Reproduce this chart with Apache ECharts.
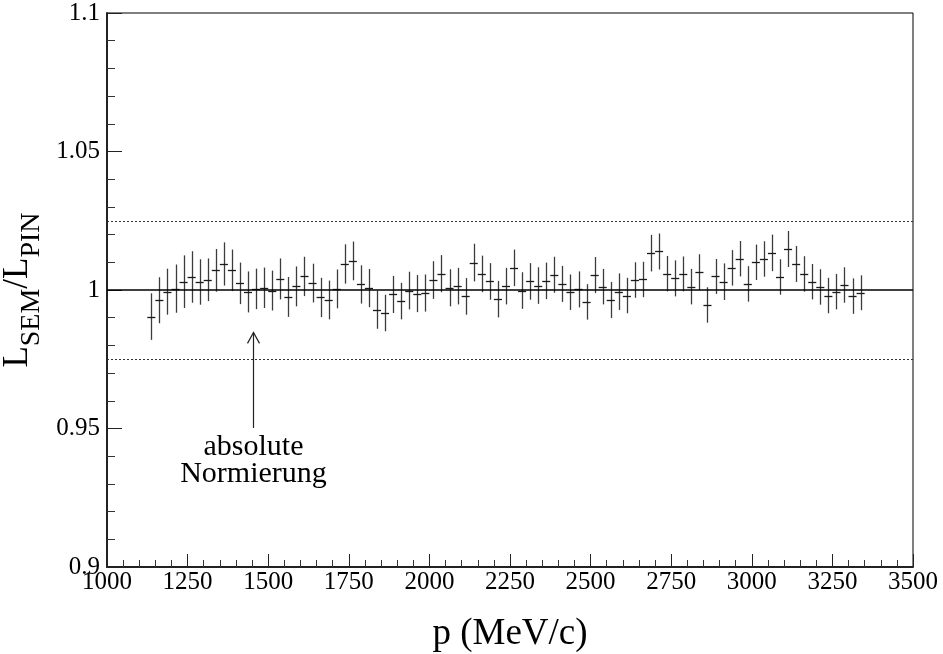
<!DOCTYPE html>
<html>
<head>
<meta charset="utf-8">
<script src="https://cdn.jsdelivr.net/npm/echarts@6/dist/echarts.min.js"></script>
<style>
html,body{margin:0;padding:0;background:#fff;}
#chart{width:943px;height:654px;}
</style>
</head>
<body>
<div id="chart"></div>
<script>
// bin centres p (MeV/c)
var pValues = [1137.5,1162.5,1187.5,1212.5,1237.5,1262.5,1287.5,1312.5,1337.5,1362.5,
1387.5,1412.5,1437.5,1462.5,1487.5,1512.5,1537.5,1562.5,1587.5,1612.5,
1637.5,1662.5,1687.5,1712.5,1737.5,1762.5,1787.5,1812.5,1837.5,1862.5,
1887.5,1912.5,1937.5,1962.5,1987.5,2012.5,2037.5,2062.5,2087.5,2112.5,
2137.5,2162.5,2187.5,2212.5,2237.5,2262.5,2287.5,2312.5,2337.5,2362.5,
2387.5,2412.5,2437.5,2462.5,2487.5,2512.5,2537.5,2562.5,2587.5,2612.5,
2637.5,2662.5,2687.5,2712.5,2737.5,2762.5,2787.5,2812.5,2837.5,2862.5,
2887.5,2912.5,2937.5,2962.5,2987.5,3012.5,3037.5,3062.5,3087.5,3112.5,
3137.5,3162.5,3187.5,3212.5,3237.5,3262.5,3287.5,3312.5,3337.5];
// L_SEM / L_PIN ratio
var ratioValues = [0.9904,0.9963,0.9994,1.0005,1.0030,1.0047,1.0029,1.0037,1.0071,1.0094,
1.0071,1.0024,0.9993,1.0004,1.0008,0.9998,1.0040,0.9975,1.0013,1.0049,
1.0025,0.9973,0.9964,1.0004,1.0094,1.0105,1.0020,1.0007,0.9929,0.9917,
0.9984,0.9960,0.9998,0.9987,0.9989,1.0036,1.0059,1.0008,1.0014,0.9977,
1.0099,1.0058,1.0031,0.9967,1.0014,1.0080,0.9998,1.0031,1.0016,1.0033,
1.0055,1.0022,0.9992,1.0002,0.9957,1.0054,1.0012,0.9964,0.9994,0.9980,
1.0036,1.0038,1.0133,1.0139,1.0059,1.0042,1.0058,1.0012,1.0064,0.9946,
1.0049,1.0030,1.0080,1.0113,1.0022,1.0100,1.0112,1.0134,1.0047,1.0148,
1.0094,1.0058,1.0030,1.0011,0.9980,0.9994,1.0018,0.9978,0.9990];
// half error bars
var errValues = [0.0084,0.0083,0.0083,0.0087,0.0095,0.0093,0.0082,0.0077,0.0077,0.0078,
0.0075,0.0075,0.0074,0.0073,0.0073,0.0072,0.0074,0.0072,0.0072,0.0071,
0.0070,0.0071,0.0070,0.0070,0.0071,0.0070,0.0069,0.0069,0.0069,0.0066,
0.0067,0.0066,0.0068,0.0067,0.0067,0.0068,0.0067,0.0067,0.0066,0.0066,
0.0068,0.0066,0.0066,0.0066,0.0066,0.0066,0.0066,0.0066,0.0066,0.0066,
0.0065,0.0065,0.0064,0.0065,0.0064,0.0065,0.0064,0.0065,0.0066,0.0064,
0.0064,0.0064,0.0066,0.0065,0.0064,0.0065,0.0063,0.0064,0.0065,0.0064,
0.0063,0.0066,0.0064,0.0064,0.0064,0.0064,0.0064,0.0066,0.0064,0.0065,
0.0065,0.0064,0.0064,0.0064,0.0064,0.0064,0.0064,0.0064,0.0063];
var binWidth = 25;
var refLine = 1.0;
var bandLines = [1.025, 0.975];
// annotation arrow: [p, yFrom, yTo]
var arrowData = [[1454, 0.9502, 0.9847]];
var annotationText = 'absolute\nNormierung';

var serif = "'Liberation Serif','DejaVu Serif','Times New Roman',serif";
var data = pValues.map(function(p, i){ return [p, ratioValues[i], errValues[i]]; });

var chart = echarts.init(document.getElementById('chart'), null, {renderer:'canvas'});
chart.setOption({
  animation:false,
  backgroundColor:'#fff',
  grid:{left:107, right:30, top:13, bottom:87, outerBoundsMode:'none', containLabel:false,
        show:true, borderColor:'#000', borderWidth:1, backgroundColor:'transparent'},
  xAxis:{
    type:'value', min:1000, max:3500, interval:250,
    name:'p (MeV/c)', nameLocation:'middle', nameGap:47,
    nameTextStyle:{fontFamily:serif, fontSize:37, color:'#000', lineHeight:40},
    axisLine:{show:true, onZero:false, lineStyle:{color:'#222', width:2}},
    axisTick:{show:true, inside:true, length:13, lineStyle:{color:'#222', width:1}},
    minorTick:{show:true, splitNumber:5, length:7, lineStyle:{color:'#333', width:1}},
    splitLine:{show:false},
    axisLabel:{fontFamily:serif, fontSize:25, color:'#000', margin:3,
      formatter:function(v){ return String(v); }}
  },
  yAxis:{
    type:'value', min:0.9, max:1.1, interval:0.05,
    name:'{m|L}{s|SEM}{m|/L}{s|PIN}', nameLocation:'middle', nameGap:54,
    nameTextStyle:{fontFamily:serif, color:'#000',
      rich:{
        m:{fontFamily:serif, fontSize:35, lineHeight:36, verticalAlign:'top', color:'#000'},
        s:{fontFamily:serif, fontSize:28, lineHeight:26, verticalAlign:'top', padding:[17,0,0,0], color:'#000'}
      }},
    axisLine:{show:true, onZero:false, lineStyle:{color:'#222', width:2}},
    axisTick:{show:true, inside:true, length:15, lineStyle:{color:'#222', width:1}},
    minorTick:{show:true, splitNumber:5, length:8, lineStyle:{color:'#333', width:1}},
    splitLine:{show:false},
    axisLabel:{fontFamily:serif, fontSize:25, color:'#000', margin:7,
      formatter:function(v){ return String(Math.round(v*1000)/1000); }}
  },
  series:[
    {
      type:'line', data:[], silent:true,
      markLine:{
        silent:true, symbol:['none','none'], animation:false, precision:4,
        label:{show:false},
        data:[
          {yAxis:refLine, lineStyle:{type:'solid', color:'#000', width:1.5}},
          {yAxis:bandLines[0], lineStyle:{type:[2,2], color:'#333', width:1}},
          {yAxis:bandLines[1], lineStyle:{type:[2,2], color:'#333', width:1}}
        ]
      }
    },
    {
      type:'custom', data:data, silent:true,
      renderItem:function(params, api){
        var x = api.value(0), y = api.value(1), e = api.value(2);
        var c = api.coord([x, y]);
        var t = api.coord([x, y + e]);
        var b = api.coord([x, y - e]);
        var l = api.coord([x - binWidth/2, y]);
        var r = api.coord([x + binWidth/2, y]);
        var cx = Math.round(c[0]) + 0.5;
        var cy = Math.round(c[1]) + 0.5;
        return {type:'group', children:[
          {type:'line', shape:{x1:cx, y1:t[1], x2:cx, y2:b[1]}, style:{stroke:'#3c3c3c', lineWidth:1.3}},
          {type:'line', shape:{x1:l[0], y1:cy, x2:r[0], y2:cy}, style:{stroke:'#1a1a1a', lineWidth:1.3}}
        ]};
      }
    },
    {
      type:'custom', data:arrowData, silent:true,
      renderItem:function(params, api){
        var x = api.value(0);
        var a = api.coord([x, api.value(1)]);
        var b = api.coord([x, api.value(2)]);
        var ax = Math.round(a[0]) + 0.5;
        return {type:'group', children:[
          {type:'line', shape:{x1:ax, y1:a[1], x2:ax, y2:b[1]}, style:{stroke:'#222', lineWidth:1.2}},
          {type:'polyline', shape:{points:[[ax-6, b[1]+11],[ax, b[1]],[ax+6, b[1]+11]]}, style:{stroke:'#222', lineWidth:1.2, fill:'none'}},
          {type:'text', x:ax, y:a[1] + 6, style:{text:annotationText, fontFamily:serif, fontSize:30, lineHeight:27, fill:'#000', align:'center', verticalAlign:'top'}}
        ]};
      }
    }
  ]
});
</script>
</body>
</html>
